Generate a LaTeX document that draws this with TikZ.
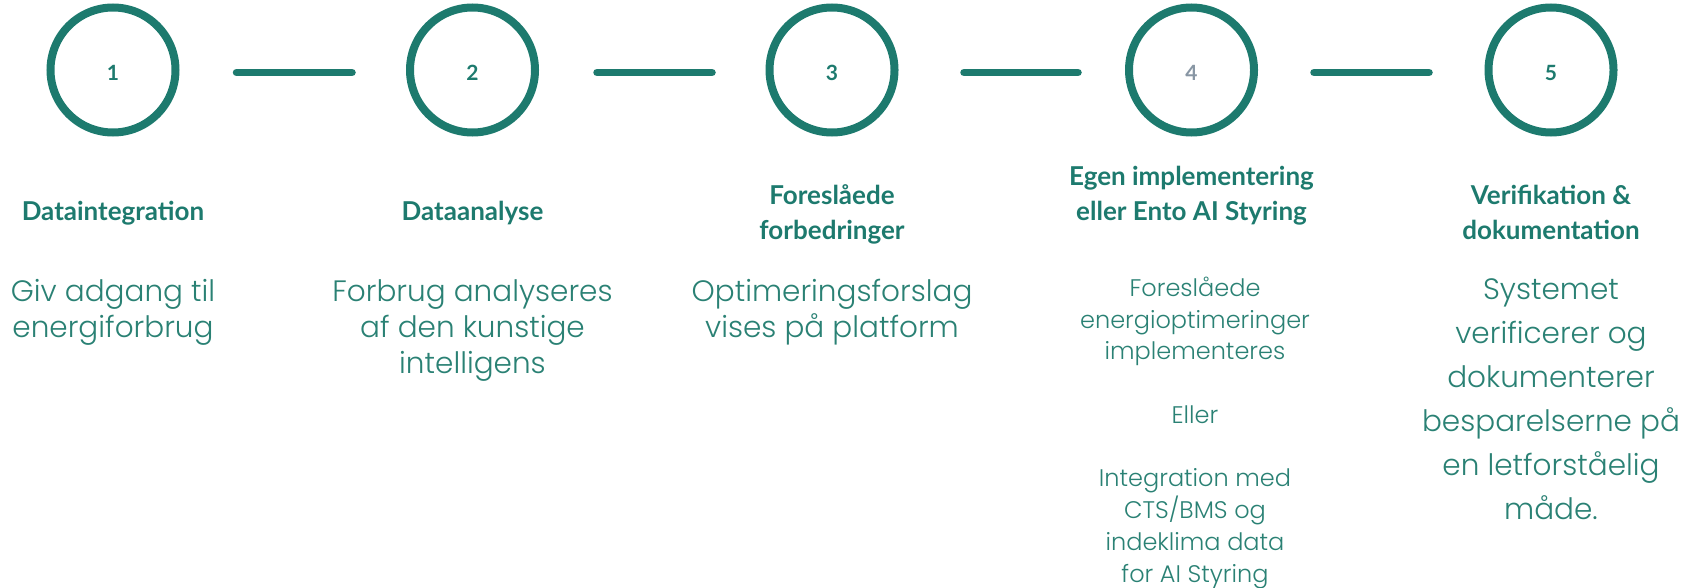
\documentclass[tikz,border=0pt]{standalone}
\usepackage{fontspec}
\newfontfamily\headfont{Lato}
\newfontfamily\bodyfont{Poppins Light}
\definecolor{stepteal}{HTML}{1D7A6E}
\definecolor{bodyteal}{HTML}{2A8174}
\definecolor{stepgrey}{HTML}{8896A4}

\begin{document}
\begin{tikzpicture}[x=1bp,y=-1bp,
  stepcircle/.style={circle, draw=stepteal, line width=8bp, minimum size=125bp, inner sep=0pt},
  link/.style={draw=stepteal, line width=7.5bp, line cap=round},
  numtext/.style={font=\headfont\bfseries\fontsize{21bp}{21bp}\selectfont, text=stepteal, anchor=base, inner sep=0pt},
  title/.style={font=\headfont\bfseries\fontsize{26bp}{35bp}\selectfont, text=stepteal, align=center, anchor=base, inner sep=0pt},
  body/.style={font=\bodyfont\fontsize{29.5bp}{36bp}\selectfont, text=bodyteal, align=center, anchor=base, inner sep=0pt},
  bodysmall/.style={font=\bodyfont\fontsize{24bp}{31.75bp}\selectfont, text=bodyteal, align=center, anchor=base, inner sep=0pt}
]
\useasboundingbox (0,0) rectangle (1700,588);

% step circles
\node[stepcircle] (c1) at (113,70) {};
\node[stepcircle] (c2) at (472.5,70) {};
\node[stepcircle] (c3) at (832,70) {};
\node[stepcircle] (c4) at (1191.5,70) {};
\node[stepcircle] (c5) at (1551,70) {};

% step numbers
\node[numtext] (n1) at (113,80.5) {1};
\node[numtext] (n2) at (472.5,80.5) {2};
\node[numtext] (n3) at (832,80.5) {3};
\node[numtext, text=stepgrey] (n4) at (1191.5,80.5) {4};
\node[numtext] (n5) at (1551,80.5) {5};

% connectors between the steps
\draw[link, shorten <=57bp, shorten >=54bp] ([yshift=-2.5bp]c1.east) -- ([yshift=-2.5bp]c2.west);
\draw[link, shorten <=58bp, shorten >=53.5bp] ([yshift=-2.5bp]c2.east) -- ([yshift=-2.5bp]c3.west);
\draw[link, shorten <=65.5bp, shorten >=47bp] ([yshift=-2.5bp]c3.east) -- ([yshift=-2.5bp]c4.west);
\draw[link, shorten <=56bp, shorten >=55.5bp] ([yshift=-2.5bp]c4.east) -- ([yshift=-2.5bp]c5.west);

% step titles (multi-line nodes sit on the baseline of their last line)
\node[title] (t1) at (113,221) {Dataintegration};
\node[title] (t2) at (472.5,221) {Dataanalyse};
\node[title] (t3) at (832,240) {Foreslåede\\forbedringer};
\node[title] (t4) at (1191.5,221) {Egen implementering\\eller Ento AI Styring};
\node[title] (t5) at (1551,240) {Verifikation \&\\dokumentation};

% step descriptions
\node[body] (b1) at (113,337) {Giv adgang til\\energiforbrug};
\node[body] (b2) at (472.5,373) {Forbrug analyseres\\af den kunstige\\intelligens};
\node[body] (b3) at (832,337) {Optimeringsforslag\\vises på platform};
\node[bodysmall] (b4) at (1195,582) {Foreslåede\\energioptimeringer\\implementeres\\[31.75bp]Eller\\[31.75bp]Integration med\\CTS/BMS og\\indeklima data\\for AI Styring};
\node[body, font=\bodyfont\fontsize{29.5bp}{44bp}\selectfont] (b5) at (1551,519) {Systemet\\verificerer og\\dokumenterer\\besparelserne på\\en letforståelig\\måde.};
\end{tikzpicture}
\end{document}
